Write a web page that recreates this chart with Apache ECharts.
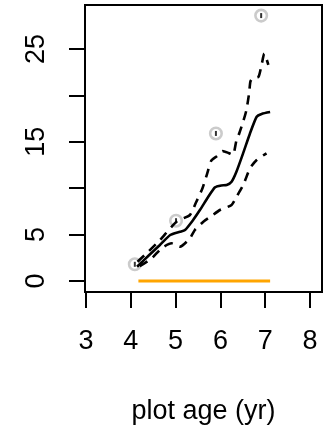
<!DOCTYPE html>
<html>
<head>
<meta charset="utf-8">
<script src="https://cdn.jsdelivr.net/npm/echarts@6/dist/echarts.min.js"></script>
<style>
  html, body { margin: 0; padding: 0; background: #fff; }
  #chart { width: 327px; height: 431px; }
</style>
</head>
<body>
<div id="chart"></div>
<script>
// Observed plot means (with tiny error bars)
var obsAge = [4.09, 5.01, 5.90, 6.91];
var obsVal = [1.8, 6.5, 15.9, 28.6];

// Fitted mean trajectory
var meanAge = [4.14, 4.40, 4.65, 4.88, 5.10, 5.21, 5.38, 5.55, 5.72, 5.88, 6.02, 6.14, 6.25, 6.36, 6.51, 6.66, 6.81, 6.92, 7.11];
var meanVal = [1.54, 2.75, 3.88, 4.96, 5.31, 5.50, 6.50, 7.70, 9.00, 10.10, 10.30, 10.34, 10.70, 11.80, 13.80, 15.90, 17.70, 18.00, 18.20];

// Upper interval
var upAge = [4.15, 4.40, 4.65, 5.02, 5.32, 5.45, 5.60, 5.70, 5.80, 5.92, 6.05, 6.18, 6.28, 6.36, 6.42, 6.51, 6.58, 6.64, 6.67, 6.72, 6.85, 6.92, 6.98, 7.07];
var upVal = [2.08, 3.20, 4.40, 6.39, 7.11, 8.40, 10.00, 11.50, 13.00, 13.45, 14.00, 13.80, 13.60, 15.20, 15.90, 17.20, 18.40, 20.20, 21.50, 21.85, 22.00, 23.30, 24.50, 23.30];

// Lower interval
var lowAge = [4.20, 4.47, 4.69, 4.91, 5.10, 5.32, 5.43, 5.62, 5.80, 5.99, 6.25, 6.36, 6.51, 6.66, 6.81, 7.03];
var lowVal = [1.60, 2.45, 3.55, 4.06, 3.70, 4.60, 5.50, 6.39, 7.00, 7.65, 8.19, 9.08, 10.34, 12.14, 13.04, 13.76];

// Reference band along zero
var zeroAge = [4.17, 7.11];
var zeroVal = [0, 0];

var xTicks = [3, 4, 5, 6, 7, 8];
var yTicks = [0, 5, 10, 15, 20, 25];
var yLabels = [0, 5, 15, 25];

function pairs(xs, ys) {
  return xs.map(function (x, i) { return [x, ys[i]]; });
}

var FONT = 'Liberation Sans';
var FS = 27;
var chart = echarts.init(document.getElementById('chart'), null, { renderer: 'canvas' });

var dashed = { color: '#000', width: 2.6, type: [9, 7] };

chart.setOption({
  animation: false,
  backgroundColor: '#fff',
  grid: {
    left: 85, right: 5, top: 5, bottom: 139,
    show: true, borderColor: '#000', borderWidth: 2, backgroundColor: 'transparent'
  },
  xAxis: {
    type: 'value',
    min: 2.978, max: 8.268,
    name: 'plot age (yr)',
    nameLocation: 'middle',
    nameGap: 106,
    nameTextStyle: { fontFamily: FONT, fontSize: FS, color: '#000' },
    axisLine: { show: false, onZero: false },
    splitLine: { show: false },
    axisTick: { show: true, inside: false, length: 16, customValues: xTicks, lineStyle: { color: '#000', width: 2 } },
    axisLabel: { show: true, margin: 36, customValues: xTicks, fontFamily: FONT, fontSize: FS, color: '#000' }
  },
  yAxis: {
    type: 'value',
    min: -1.185, max: 29.74,
    axisLine: { show: false, onZero: false },
    splitLine: { show: false },
    axisTick: { show: true, inside: false, length: 16, customValues: yTicks, lineStyle: { color: '#000', width: 2 } },
    axisLabel: { show: true, rotate: 90, margin: 35, customValues: yLabels, fontFamily: FONT, fontSize: FS, color: '#000' }
  },
  series: [
    {
      type: 'line', data: pairs(zeroAge, zeroVal), symbol: 'none', z: 2,
      lineStyle: { color: '#FFA500', width: 3 }
    },
    {
      type: 'scatter', data: pairs(obsAge, obsVal), symbol: 'circle', symbolSize: 11.5, z: 1,
      itemStyle: { color: 'rgba(0,0,0,0)', borderColor: '#BEBEBE', borderWidth: 2.6 }
    },
    {
      type: 'scatter', data: pairs(obsAge, obsVal), symbol: 'rect', symbolSize: [2, 5], z: 2,
      itemStyle: { color: '#000' }
    },
    {
      type: 'line', data: pairs(upAge, upVal), symbol: 'none', smooth: 0.2, z: 3,
      lineStyle: dashed
    },
    {
      type: 'line', data: pairs(lowAge, lowVal), symbol: 'none', smooth: 0.2, z: 3,
      lineStyle: dashed
    },
    {
      type: 'line', data: pairs(meanAge, meanVal), symbol: 'none', smooth: 0.2, z: 3,
      lineStyle: { color: '#000', width: 2.6 }
    }
  ]
});
</script>
</body>
</html>
